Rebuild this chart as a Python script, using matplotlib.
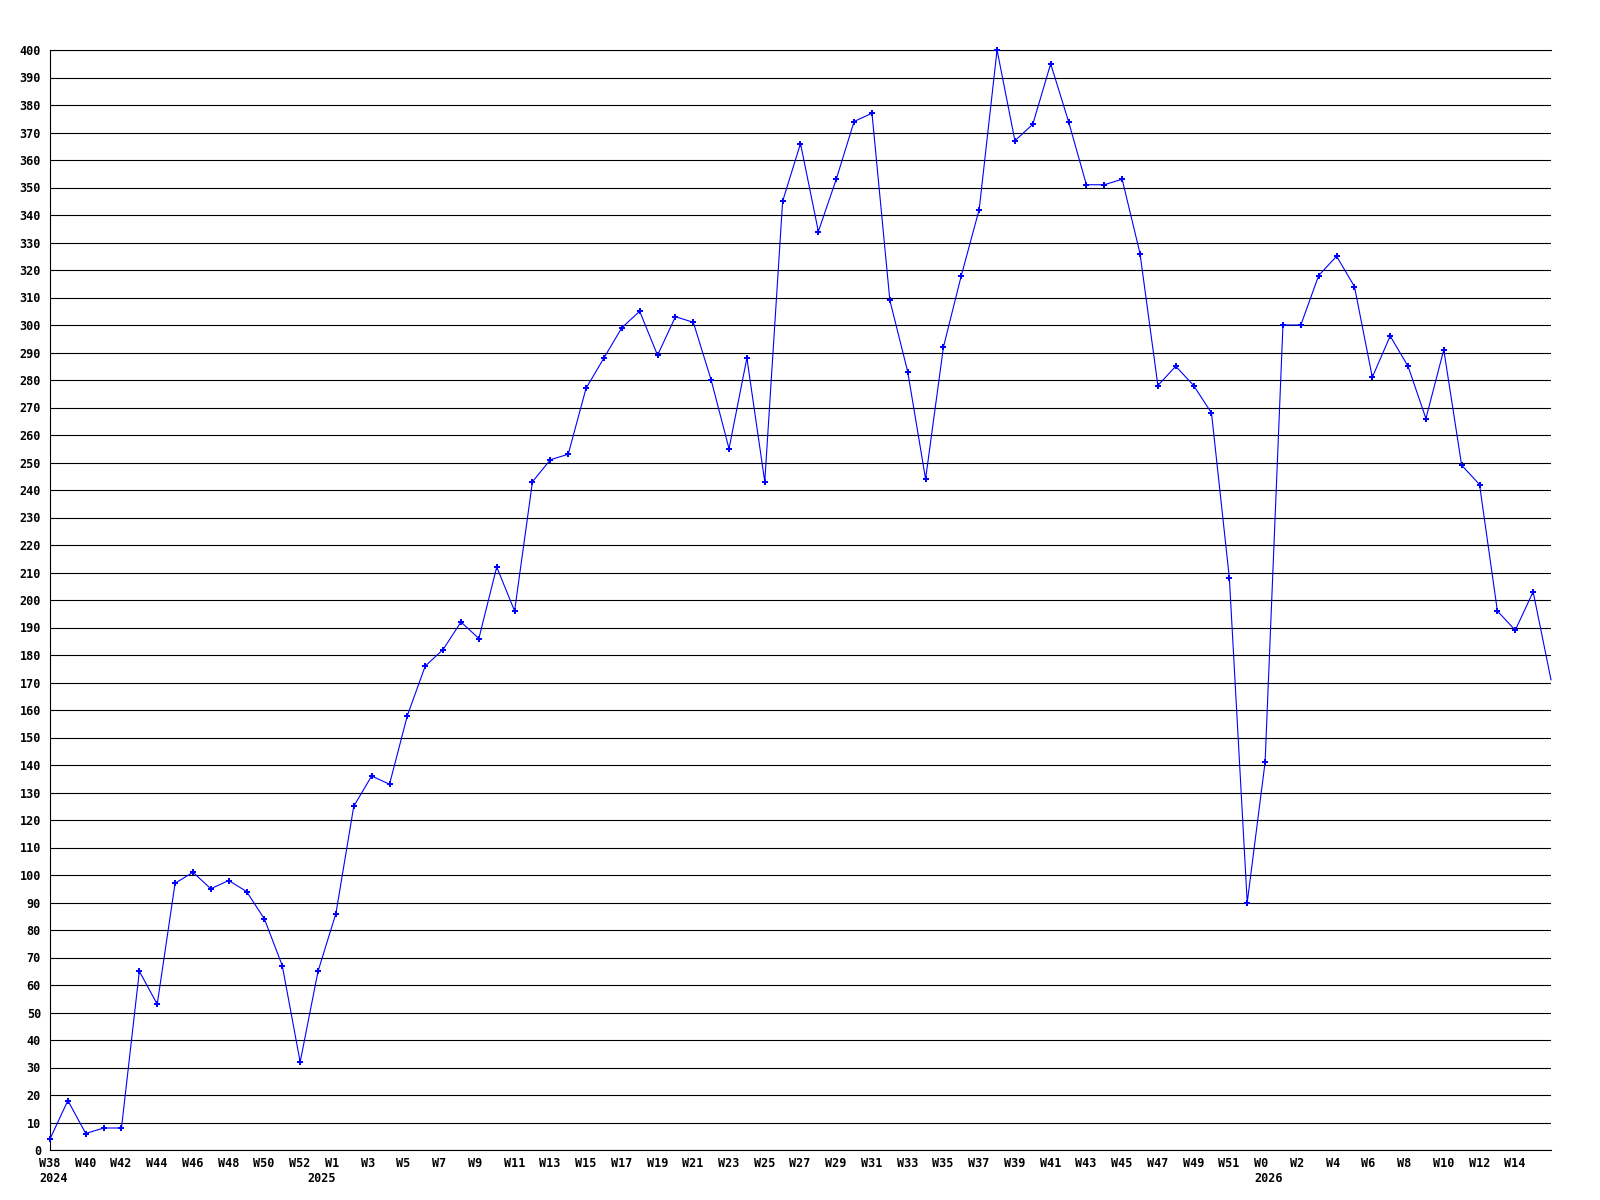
import matplotlib
matplotlib.use("Agg")
import matplotlib.pyplot as plt
from matplotlib.transforms import offset_copy

# weekly values, W38 2024 .. W16 2026
values = [4, 18, 6, 8, 8, 65, 53, 97, 101, 95, 98, 94, 84, 67, 32,
          65, 86, 125, 136, 133, 158, 176, 182, 192, 186, 212, 196, 243, 251, 253,
          277, 288, 299, 305, 289, 303, 301, 280, 255, 288, 243, 345, 366, 334, 353,
          374, 377, 309, 283, 244, 292, 318, 342, 400, 367, 373, 395, 374, 351, 351,
          353, 326, 278, 285, 278, 268, 208, 90,
          141, 300, 300, 318, 325, 314, 281, 296, 285, 266, 291, 249, 242, 196, 189,
          203, 171]
weeks = list(range(38, 53)) + list(range(0, 53)) + list(range(0, 17))
years = [2024] * 15 + [2025] * 53 + [2026] * 17

x = list(range(len(values)))
font = dict(family="DejaVu Sans Mono", weight="bold", size=8.5)

fig = plt.figure(figsize=(16, 12), dpi=100)
ax = fig.add_axes([50 / 1600, 50 / 1200, 1501 / 1600, 1100 / 1200])

ax.plot(x, values, color="#0000ff", lw=0.8, clip_on=False, zorder=3)
ax.plot(x[:-1], values[:-1], "P", color="#0000ff", markersize=4,
        markeredgewidth=0, clip_on=False, zorder=4)

ax.set_xlim(0, len(values) - 1)
ax.set_ylim(0, 400)
ax.set_yticks(range(0, 401, 10))
ax.set_yticklabels([str(v) for v in range(0, 401, 10)], **font)
ax.set_xticks([])
ax.tick_params(length=0, pad=6.5)
ax.yaxis.grid(True, color="black", lw=0.8)
ax.set_axisbelow(True)

for side in ["left", "bottom", "top"]:
    ax.spines[side].set_color("black")
    ax.spines[side].set_linewidth(0.8)
ax.spines["right"].set_visible(False)

wk_trans = offset_copy(ax.get_xaxis_transform(), fig=fig, x=-11, y=-7, units="dots")
yr_trans = offset_copy(ax.get_xaxis_transform(), fig=fig, x=-11, y=-22, units="dots")
for i in x[:-1]:
    if i % 2 == 0:
        ax.text(i, 0, f"W{weeks[i]}", transform=wk_trans, ha="left", va="top", **font)
    if i == 0 or years[i] != years[i - 1]:
        ax.text(i, 0, str(years[i]), transform=yr_trans, ha="left", va="top", **font)

fig.savefig("out.png", dpi=100)
